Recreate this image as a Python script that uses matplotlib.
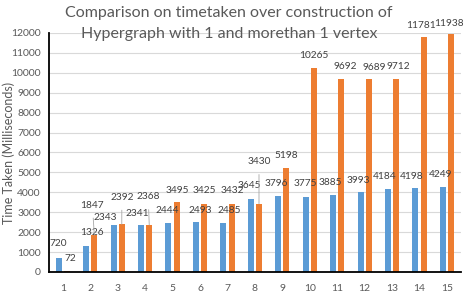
import matplotlib
matplotlib.use("Agg")
import matplotlib.pyplot as plt
import numpy as np

plt.rcParams["font.family"] = ["Lato", "DejaVu Sans"]

categories = [str(i) for i in range(1, 16)]
one_vertex = [720, 1326, 2343, 2341, 2444, 2493, 2485, 3645, 3796, 3775, 3885, 3993, 4184, 4198, 4249]
more_vertex = [72, 1847, 2392, 2368, 3495, 3425, 3432, 3430, 5198, 10265, 9692, 9689, 9712, 11781, 11938]

# label nudges in pixels (dx, dy) so they sit like the original
blue_dx = [0, 6, -8, -4, -1, 4, 6, -1, -2, 0, -3, -2, -3, -4, -2]
blue_dy = [14, 13, 8, 12, 13, 12, 12, 14, 13, 13, 12, 12, 12, 12, 13]
orange_dx = [3, -2, 0, -1, 1, 0, 1, 0, 0, 0, 4, 5, 2, -3, -2]
orange_dy = [12, 30, 27, 28, 12, 13, 13, 42, 13, 12, 12, 12, 12, 12, 11]
leader = [False, True, True, True, False, False, False, True, False, False, False, False, False, False, False]

blue = "#5B9BD5"
orange = "#ED7D31"
txt = "#404040"
tick_col = "#595959"

fig = plt.figure(figsize=(4.63, 2.92), dpi=100)
ax = fig.add_axes([0.106, 0.0685, 0.889, 0.8185])

x = np.arange(1, len(categories) + 1)
w = 0.22
ax.bar(x - 0.15, one_vertex, w, color=blue, zorder=2)
ax.bar(x + 0.15, more_vertex, w, color=orange, zorder=2)

for i in range(len(x)):
    ax.annotate(str(one_vertex[i]), (x[i] - 0.15, one_vertex[i]),
                xytext=(blue_dx[i], blue_dy[i]), textcoords="offset pixels",
                ha="center", va="center", fontsize=7.3, color=txt, zorder=3)
    props = None
    if leader[i]:
        props = dict(arrowstyle="-", color="#a6a6a6", lw=0.6, shrinkA=4, shrinkB=0)
    ax.annotate(str(more_vertex[i]), (x[i] + 0.15, more_vertex[i]),
                xytext=(orange_dx[i], orange_dy[i]), textcoords="offset pixels",
                ha="center", va="center", fontsize=7.3, color=txt, zorder=3,
                arrowprops=props)

ax.set_xlim(0.5, 15.5)
ax.set_ylim(0, 12000)
ax.set_yticks(range(0, 12001, 1000))
ax.set_xticks(x)
ax.set_xticklabels(categories)
ax.tick_params(axis="both", length=0, labelsize=7.5, colors=tick_col)
ax.tick_params(axis="x", pad=9)
ax.tick_params(axis="y", pad=6)
ax.yaxis.grid(True, color="#d9d9d9", lw=0.8, zorder=0)
ax.set_axisbelow(True)
for s in ["top", "right"]:
    ax.spines[s].set_visible(False)
for s in ["left", "bottom"]:
    ax.spines[s].set_color("black")
    ax.spines[s].set_linewidth(1.3)

ax.set_ylabel("Time Taken (Milliseconds)", fontsize=9, color=tick_col)
ax.yaxis.set_label_coords(-0.084, 0.5)
fig.text(0.495, 0.955, "Comparison on timetaken over construction of", ha="center", va="center",
         fontsize=11.5, color=tick_col)
fig.text(0.495, 0.885, "Hypergraph with 1 and morethan 1 vertex", ha="center", va="center",
         fontsize=11.5, color=tick_col)

fig.savefig("out.png", dpi=100, facecolor="white")
